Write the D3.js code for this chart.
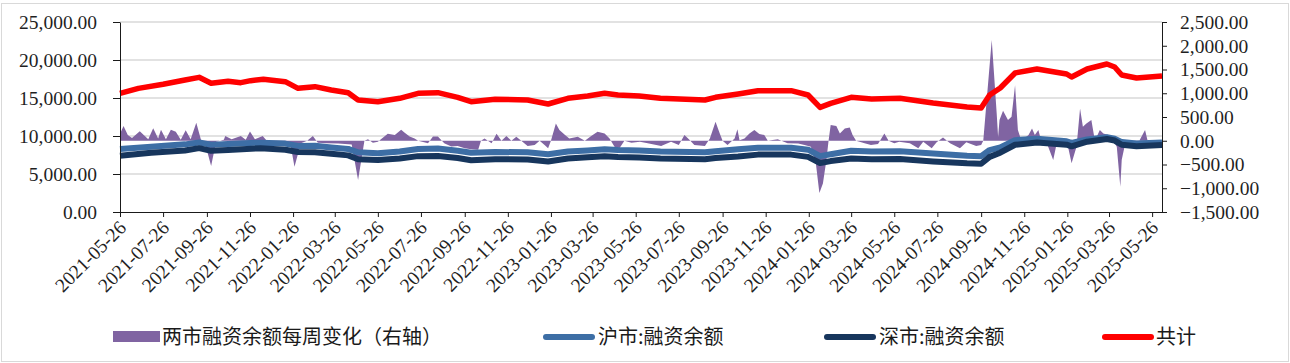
<!DOCTYPE html>
<html>
<head>
<meta charset="utf-8">
<script src="https://cdn.jsdelivr.net/npm/d3@7/dist/d3.min.js"></script>
<style>
  body { margin: 0; background: #fff; }
  .axis path, .axis line { stroke: #1a1a1a; }
  .axis text { font-family: "Liberation Serif", "Times New Roman", serif; font-size: 19.5px; fill: #1f1f1f; }
  .legend text { font-family: "Noto Sans CJK SC", sans-serif; font-size: 20px; fill: #1a1a1a; }
</style>
</head>
<body>
<script>
var width = 1290,
    height = 363,
    plotLeft = 120,
    plotRight = 1162,
    plotTop = 22,
    plotBottom = 212;

// x axis tick labels
var tickLabels = ["2021-05-26", "2021-07-26", "2021-09-26", "2021-11-26", "2022-01-26", "2022-03-26",
    "2022-05-26", "2022-07-26", "2022-09-26", "2022-11-26", "2023-01-26", "2023-03-26", "2023-05-26",
    "2023-07-26", "2023-09-26", "2023-11-26", "2024-01-26", "2024-03-26", "2024-05-26", "2024-07-26",
    "2024-09-26", "2024-11-26", "2025-01-26", "2025-03-26", "2025-05-26"];
var leftTicks = [0, 5000, 10000, 15000, 20000, 25000];
var rightTicks = [-1500, -1000, -500, 0, 500, 1000, 1500, 2000, 2500];

// 两市融资余额每周变化 (right axis)
var changeDates = ["2021-05-26", "2021-05-31", "2021-06-06", "2021-06-12", "2021-06-23", "2021-07-05", "2021-07-12",
    "2021-07-19", "2021-07-23", "2021-07-30", "2021-08-06", "2021-08-13", "2021-08-20", "2021-08-27", "2021-09-03",
    "2021-09-11", "2021-09-18", "2021-09-23", "2021-10-02", "2021-10-09", "2021-10-20", "2021-10-22", "2021-10-31",
    "2021-11-13", "2021-11-20", "2021-11-26", "2021-12-03", "2021-12-14", "2021-12-21", "2022-01-06", "2022-01-22",
    "2022-01-28", "2022-02-06", "2022-02-15", "2022-02-23", "2022-03-02", "2022-03-15", "2022-03-31", "2022-04-19",
    "2022-04-28", "2022-05-07", "2022-05-12", "2022-05-19", "2022-05-26", "2022-06-09", "2022-06-19", "2022-06-28",
    "2022-07-03", "2022-07-10", "2022-07-17", "2022-07-22", "2022-08-05", "2022-08-12", "2022-08-19", "2022-08-28",
    "2022-09-07", "2022-09-16", "2022-09-26", "2022-10-05", "2022-10-15", "2022-10-19", "2022-10-24", "2022-11-03",
    "2022-11-10", "2022-11-17", "2022-11-24", "2022-12-01", "2022-12-08", "2022-12-15", "2022-12-24", "2023-01-03",
    "2023-01-10", "2023-01-17", "2023-01-22", "2023-01-26", "2023-02-02", "2023-02-07", "2023-02-15", "2023-02-21",
    "2023-03-05", "2023-03-15", "2023-03-24", "2023-04-02", "2023-04-12", "2023-04-19", "2023-04-26", "2023-05-03",
    "2023-05-10", "2023-05-20", "2023-06-01", "2023-06-12", "2023-07-01", "2023-07-15", "2023-07-26", "2023-08-03",
    "2023-08-10", "2023-08-17", "2023-09-01", "2023-09-08", "2023-09-16", "2023-09-22", "2023-09-26", "2023-10-03",
    "2023-10-13", "2023-10-17", "2023-10-20", "2023-10-27", "2023-11-03", "2023-11-10", "2023-11-17", "2023-11-24",
    "2023-11-29", "2023-12-13", "2023-12-27", "2024-01-11", "2024-01-20", "2024-01-29", "2024-02-05", "2024-02-10",
    "2024-02-15", "2024-02-20", "2024-02-23", "2024-02-26", "2024-03-05", "2024-03-10", "2024-03-17", "2024-03-24",
    "2024-03-28", "2024-04-02", "2024-04-14", "2024-04-23", "2024-05-03", "2024-05-12", "2024-05-18", "2024-05-26",
    "2024-06-02", "2024-06-17", "2024-06-29", "2024-07-06", "2024-07-18", "2024-07-25", "2024-08-03", "2024-08-13",
    "2024-08-27", "2024-09-05", "2024-09-19", "2024-09-26", "2024-09-29", "2024-10-11", "2024-10-18", "2024-10-20",
    "2024-10-22", "2024-10-27", "2024-11-03", "2024-11-08", "2024-11-13", "2024-11-17", "2024-11-22", "2024-12-02",
    "2024-12-07", "2024-12-11", "2024-12-16", "2024-12-20", "2024-12-28", "2025-01-06", "2025-01-11", "2025-01-20",
    "2025-01-27", "2025-02-01", "2025-02-08", "2025-02-13", "2025-02-17", "2025-02-22", "2025-03-01", "2025-03-06",
    "2025-03-13", "2025-03-18", "2025-03-25", "2025-04-01", "2025-04-06", "2025-04-11", "2025-04-13", "2025-04-18",
    "2025-04-29", "2025-05-06", "2025-05-16", "2025-05-20", "2025-06-09"];
var changeValues = [150, 310, 120, 60, 200, 30, 265,
    50, 230, 30, 230, 190, 20, 220, 30,
    380, 0, -30, -530, -20, 20, 100, 30,
    100, 20, 195, 30, 100, -20, -40, -50,
    -545, -50, 0, 100, -40, -50, -60, -80,
    -825, 0, 30, -40, -20, 150, 120, 230,
    170, 90, 50, 0, -50, 90, 90, -50,
    -120, -110, -160, -180, -190, 0, 50, -50,
    150, 0, 100, 0, 85, 0, -110, -90,
    0, -90, -160, 0, 365, 225, 120, 50,
    85, 0, 100, 190, 155, 50, -125, -160,
    0, -40, -20, -50, -110, -20, -90, 120,
    20, -90, -110, 50, 400, 155, 0, -90,
    50, 240, 10, 50, 155, 225, 140, 120,
    0, 30, -50, -60, -90, -125, -475, -1100,
    -900, -400, 0, 330, 310, 155, 260, 280,
    120, 0, -50, -90, -70, 155, 0, -50,
    -20, -50, -160, -20, -160, -30, 70, -50,
    -160, -30, -110, -90, 0, 2120, 575, 80,
    435, 630, 435, 505, 1170, 225, 0, 120,
    260, 120, 225, 0, -50, -405, -50, 0,
    -125, -475, -125, 680, 295, 365, 435, 0,
    225, 155, 120, 0, -125, -970, -400, -50,
    0, -50, 225, -20, -20];

// 沪市 / 深市 融资余额 (left axis)
var marginDates = ["2021-05-26", "2021-07-09", "2021-08-26", "2021-09-15", "2021-10-02", "2021-10-26", "2021-12-11",
    "2022-01-15", "2022-02-02", "2022-02-26", "2022-03-21", "2022-04-14", "2022-04-28", "2022-05-26", "2022-06-26",
    "2022-07-22", "2022-08-19", "2022-09-16", "2022-10-05", "2022-11-08", "2022-12-24", "2023-01-22", "2023-02-19",
    "2023-03-19", "2023-04-12", "2023-05-01", "2023-05-31", "2023-06-30", "2023-09-01", "2023-09-16", "2023-10-18",
    "2023-11-15", "2024-01-01", "2024-01-25", "2024-02-11", "2024-02-26", "2024-03-26", "2024-04-24", "2024-06-03",
    "2024-07-20", "2024-09-06", "2024-09-26", "2024-10-08", "2024-10-23", "2024-11-13", "2024-12-14", "2025-01-25",
    "2025-02-01", "2025-02-23", "2025-03-23", "2025-04-03", "2025-04-13", "2025-05-04", "2025-06-09"];
var shValues = [8300, 8600, 8900, 9150, 8850, 8950, 9120,
    9000, 8700, 8720, 8500, 8300, 7850, 7720, 7950,
    8300, 8350, 8050, 7800, 7900, 7850, 7600, 7950,
    8100, 8250, 8150, 8080, 7950, 7850, 8000, 8250,
    8450, 8450, 8200, 7350, 7600, 8050, 7950, 7980,
    7700, 7400, 7350, 8150, 8500, 9450, 9650, 9300,
    9100, 9550, 9850, 9650, 9200, 9000, 9150];
var szValues = [7400, 7800, 8100, 8400, 8050, 8150, 8400,
    8200, 7900, 7850, 7650, 7450, 6950, 6850, 7050,
    7350, 7380, 7100, 6800, 6950, 6900, 6650, 7050,
    7200, 7350, 7250, 7180, 7050, 6950, 7100, 7300,
    7550, 7550, 7250, 6450, 6700, 7050, 6950, 6980,
    6650, 6400, 6350, 7250, 7800, 8850, 9150, 8850,
    8650, 9250, 9600, 9400, 8850, 8650, 8800];

// 共计 (left axis)
var totalDates = ["2021-05-26", "2021-06-21", "2021-07-26", "2021-08-26", "2021-09-15", "2021-10-02", "2021-10-26",
    "2021-11-13", "2021-11-27", "2021-12-15", "2022-01-15", "2022-02-02", "2022-02-26", "2022-03-21", "2022-04-14",
    "2022-04-28", "2022-05-26", "2022-06-26", "2022-07-22", "2022-08-19", "2022-09-16", "2022-10-05", "2022-11-08",
    "2022-12-24", "2023-01-22", "2023-02-19", "2023-03-19", "2023-04-12", "2023-05-01", "2023-05-31", "2023-06-30",
    "2023-09-01", "2023-09-16", "2023-10-18", "2023-11-15", "2024-01-01", "2024-01-25", "2024-02-11", "2024-02-26",
    "2024-03-26", "2024-04-24", "2024-06-03", "2024-07-20", "2024-09-06", "2024-09-26", "2024-10-08", "2024-10-23",
    "2024-11-13", "2024-12-14", "2025-01-25", "2025-02-01", "2025-02-23", "2025-03-23", "2025-04-03", "2025-04-13",
    "2025-05-04", "2025-06-09"];
var totalValues = [15620, 16270, 16800, 17370, 17720, 16930, 17200,
    17020, 17280, 17460, 17150, 16270, 16490, 16050, 15700,
    14740, 14510, 14960, 15620, 15700, 15090, 14510, 14830,
    14740, 14210, 14960, 15260, 15620, 15390, 15260, 14960,
    14740, 15090, 15530, 15960, 15960, 15390, 13770, 14300,
    15090, 14870, 14960, 14340, 13820, 13680, 15390, 16320,
    18290, 18820, 18160, 17760, 18820, 19470, 19080, 18030,
    17630, 17890];

var parseDate = d3.timeParse("%Y-%m-%d");

var x = d3.scaleTime()
        .domain([parseDate("2021-05-26"), parseDate("2025-06-09")])
        .range([plotLeft, plotRight]),
    yLeft = d3.scaleLinear().domain([0, 25000]).range([plotBottom, plotTop]),
    yRight = d3.scaleLinear().domain([-1500, 2500]).range([plotBottom, plotTop]);

var svg = d3.select("body")
    .append("svg")
        .attr("width", width)
        .attr("height", height);

// outer frame
svg.append("rect")
    .attr("x", 1.5).attr("y", 3.5)
    .attr("width", width - 3).attr("height", height - 5)
    .attr("fill", "none")
    .attr("stroke", "#d9d9d9");

// gridlines
svg.append("g")
    .selectAll("line")
    .data(leftTicks.slice(1))
    .enter()
    .append("line")
    .attr("x1", plotLeft).attr("x2", plotRight)
    .attr("y1", function(d) { return yLeft(d); })
    .attr("y2", function(d) { return yLeft(d); })
    .attr("stroke", "#d9d9d9")
    .attr("stroke-width", 1.5);

// weekly change area
var changeData = changeDates.map(function(d, i) {
    return { date: parseDate(d), value: changeValues[i] }; });

svg.append("path")
    .datum(changeData)
    .attr("fill", "#8064a2")
    .attr("d", d3.area()
        .x(function(d) { return x(d.date); })
        .y0(yRight(0))
        .y1(function(d) { return yRight(d.value); }));

// balance lines
function drawLine(dates, values, color, w) {
    var data = dates.map(function(d, i) { return { date: parseDate(d), value: values[i] }; });
    svg.append("path")
        .datum(data)
        .attr("fill", "none")
        .attr("stroke", color)
        .attr("stroke-width", w)
        .attr("stroke-linejoin", "round")
        .attr("d", d3.line()
            .x(function(d) { return x(d.date); })
            .y(function(d) { return yLeft(d.value); }));
}
drawLine(marginDates, shValues, "#3d6ea5", 6);
drawLine(marginDates, szValues, "#17365d", 6);
drawLine(totalDates, totalValues, "#ff0000", 5.5);

// axes
svg.append("g")
    .attr("class", "axis")
    .attr("transform", "translate(" + plotLeft + ",0)")
    .call(d3.axisLeft(yLeft)
        .tickValues(leftTicks)
        .tickFormat(d3.format(",.2f"))
        .tickSize(7)
        .tickPadding(16)
        .tickSizeOuter(0));

svg.append("g")
    .attr("class", "axis")
    .attr("transform", "translate(" + plotRight + ",0)")
    .call(d3.axisRight(yRight)
        .tickValues(rightTicks)
        .tickFormat(d3.format(",.2f"))
        .tickSize(5)
        .tickPadding(13)
        .tickSizeOuter(0));

var xAxis = svg.append("g")
    .attr("class", "axis")
    .attr("transform", "translate(0," + plotBottom + ")")
    .call(d3.axisBottom(x)
        .tickValues(tickLabels.map(parseDate))
        .tickFormat(d3.timeFormat("%Y-%m-%d"))
        .tickSize(5)
        .tickSizeOuter(0));

xAxis.selectAll("text")
    .attr("x", 0).attr("y", 0).attr("dy", "0.35em")
    .attr("transform", "translate(2,12) rotate(-45)")
    .style("text-anchor", "end");

// legend
var legend = svg.append("g").attr("class", "legend");

legend.append("rect")
    .attr("x", 113).attr("y", 331)
    .attr("width", 47).attr("height", 11)
    .attr("fill", "#8064a2");

var legendLines = [
    { x: 546, color: "#3d6ea5" },
    { x: 827, color: "#17365d" },
    { x: 1105, color: "#ff0000" }
];
legend.selectAll("line")
    .data(legendLines)
    .enter()
    .append("line")
    .attr("x1", function(d) { return d.x; })
    .attr("x2", function(d) { return d.x + 46; })
    .attr("y1", 337).attr("y2", 337)
    .attr("stroke", function(d) { return d.color; })
    .attr("stroke-width", 6)
    .attr("stroke-linecap", "round");

var legendNames = ["两市融资余额每周变化（右轴）", "沪市:融资余额", "深市:融资余额", "共计"];
var legendX = [162, 598, 879, 1156];
legend.selectAll("text")
    .data(legendNames)
    .enter()
    .append("text")
    .attr("x", function(d, i) { return legendX[i]; })
    .attr("y", 337)
    .attr("dy", "0.35em")
    .text(function(d) { return d; });
</script>
</body>
</html>
